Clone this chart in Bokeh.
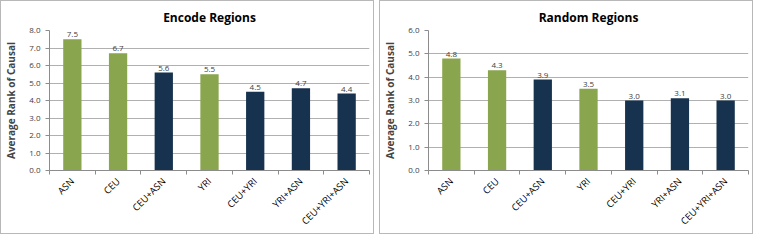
import math
from bokeh.plotting import figure
from bokeh.layouts import row
from bokeh.models import ColumnDataSource, Range1d, FixedTicker, Title
from bokeh.core.properties import value
from bokeh.embed import file_html
from bokeh.resources import INLINE

categories = ["ASN", "CEU", "CEU+ASN", "YRI", "CEU+YRI", "YRI+ASN", "CEU+YRI+ASN"]
encode_values = [7.5, 6.7, 5.6, 5.5, 4.5, 4.7, 4.4]
random_values = [4.8, 4.3, 3.9, 3.5, 3.0, 3.1, 3.0]
is_single = [True, True, False, True, False, False, False]
encode_yticks = [0, 1, 2, 3, 4, 5, 6, 7, 8]
random_yticks = [0, 1, 2, 3, 4, 5, 6]

GREEN = "#89a54e"
NAVY = "#16324f"
FONT = "Open Sans"


def make_panel(title, vals, yticks, w):
    xs = list(range(len(categories)))
    colors = [GREEN if s else NAVY for s in is_single]
    src = ColumnDataSource(dict(x=xs, top=vals, color=colors,
                                label=["%.1f" % v for v in vals]))
    p = figure(width=w, height=234, output_backend="svg", toolbar_location=None,
               x_range=Range1d(-0.5, len(categories) - 0.5),
               y_range=Range1d(yticks[0], yticks[-1]),
               min_border_left=4, min_border_right=6, min_border_top=4, min_border_bottom=0,
               styles={"border": "1px solid #b8b8b8", "box-sizing": "border-box"})
    p.title = Title(text=title, align="center", text_font=FONT, text_font_size="12px",
                    text_font_style="bold", text_color="#000000", standoff=10)
    p.vbar(x="x", top="top", width=0.4, color="color", source=src, line_color=None)
    p.text(x="x", y="top", text="label", source=src, text_align="center",
           text_baseline="bottom", y_offset=-2, text_font=value(FONT),
           text_font_size="8px", text_color="#404040")

    p.outline_line_color = None
    p.xgrid.grid_line_color = None
    p.ygrid.grid_line_color = "#b0b0b0"
    p.ygrid.ticker = FixedTicker(ticks=yticks)

    p.yaxis.ticker = FixedTicker(ticks=yticks)
    p.yaxis.major_label_overrides = {t: "%.1f" % t for t in yticks}
    p.yaxis.axis_label = "Average Rank of Causal"
    p.yaxis.axis_label_text_font = FONT
    p.yaxis.axis_label_text_font_size = "10px"
    p.yaxis.axis_label_text_font_style = "bold"
    p.yaxis.axis_label_standoff = 8
    p.yaxis.major_label_text_font = FONT
    p.yaxis.major_label_text_font_size = "8px"
    p.yaxis.major_label_text_color = "#404040"
    p.yaxis.axis_line_color = "#8c8c8c"
    p.yaxis.major_tick_line_color = "#8c8c8c"
    p.yaxis.major_tick_out = 4
    p.yaxis.major_tick_in = 0
    p.yaxis.minor_tick_line_color = None

    bounds = [i - 0.5 for i in range(len(categories) + 1)]
    p.xaxis.ticker = FixedTicker(ticks=xs, minor_ticks=bounds)
    p.xaxis.major_label_overrides = {i: c for i, c in enumerate(categories)}
    p.xaxis.major_label_orientation = math.pi / 4
    p.xaxis.major_label_text_font = FONT
    p.xaxis.major_label_text_font_size = "9.5px"
    p.xaxis.major_label_text_color = "#000000"
    p.xaxis.major_label_standoff = 3
    p.xaxis.axis_line_color = "#8c8c8c"
    p.xaxis.major_tick_line_color = None
    p.xaxis.minor_tick_line_color = "#8c8c8c"
    p.xaxis.minor_tick_out = 4
    p.xaxis.minor_tick_in = 0
    return p


p1 = make_panel("Encode Regions", encode_values, encode_yticks, 374)
p2 = make_panel("Random Regions", random_values, random_yticks, 374)
layout = row(p1, p2, spacing=5)

open("out.html", "w").write(file_html(layout, INLINE))
